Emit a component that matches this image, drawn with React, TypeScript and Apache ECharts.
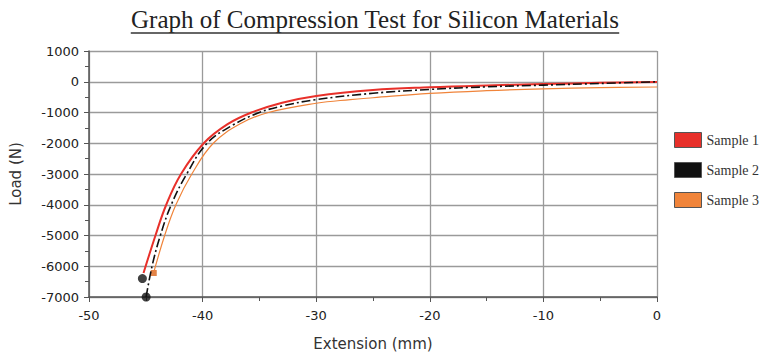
import React, { useEffect, useRef } from "react";
import * as echarts from "echarts";

const TITLE = "Graph of Compression Test for Silicon Materials";
const X_NAME = "Extension (mm)";
const Y_NAME = "Load (N)";
const SERIES_NAMES = ["Sample 1", "Sample 2", "Sample 3"];
const SERIES_COLORS = ["#e8302a", "#111111", "#f0843a"];

// [extension (mm), load (N)]
const sample1: [number, number][] = [
  [-45.2, -6220], [-44.15, -5000], [-43.2, -4000], [-41.9, -3000], [-39.9, -2000],
  [-37.8, -1380], [-35.7, -1000], [-33.0, -680], [-30.0, -460], [-25.0, -270],
  [-20.0, -180], [-15.0, -120], [-10.0, -75], [-5.0, -35], [0, -5],
];
const sample2: [number, number][] = [
  [-44.97, -7000], [-44.45, -6000], [-43.72, -5000], [-42.76, -4000], [-41.4, -3000],
  [-39.6, -2000], [-37.3, -1400], [-35.0, -1000], [-33.0, -790], [-30.0, -580],
  [-25.0, -375], [-20.0, -250], [-15.0, -165], [-10.0, -110], [-5.0, -55], [0, 0],
];
const sample2Markers: [number, number][] = [[-45.3, -6400], [-44.97, -7000]];
const sample3: [number, number][] = [
  [-44.3, -6200], [-43.34, -5000], [-42.35, -4000], [-40.95, -3000], [-39.06, -2000],
  [-36.6, -1350], [-34.2, -1000], [-30.0, -700], [-27.0, -580], [-25.0, -520],
  [-20.0, -380], [-15.0, -290], [-10.0, -230], [-5.0, -190], [0, -170],
];
const sample3Markers: [number, number][] = [[-44.3, -6220]];

export default function App() {
  const ref = useRef<HTMLDivElement>(null);
  useEffect(() => {
    if (!ref.current) return;
    const chart = echarts.init(ref.current, null, { renderer: "svg" });
    const titleFont = "25px 'Liberation Serif'";
    const ctx = document.createElement("canvas").getContext("2d");
    let tw = 490;
    if (ctx) {
      ctx.font = titleFont;
      tw = ctx.measureText(TITLE).width;
    }
    const cx = 375;
    const axisLabel = { color: "#222", fontFamily: "DejaVu Sans", fontSize: 13 };
    const lineBase = { type: "line", smooth: 0.4, symbol: "none" };
    chart.setOption({
      animation: false,
      backgroundColor: "#fff",
      graphic: [
        {
          type: "text",
          x: cx,
          y: 19,
          style: { text: TITLE, font: titleFont, fill: "#222", textAlign: "center", textVerticalAlign: "middle" },
        },
        {
          type: "line",
          shape: { x1: cx - tw / 2, y1: 33, x2: cx + tw / 2, y2: 33 },
          style: { stroke: "#333", lineWidth: 1.5 },
        },
      ],
      legend: {
        orient: "vertical",
        left: 669,
        top: 127,
        icon: "rect",
        itemWidth: 27,
        itemHeight: 15,
        itemGap: 14,
        data: SERIES_NAMES,
        itemStyle: { borderColor: "#555", borderWidth: 1 },
        textStyle: { fontFamily: "Liberation Serif", fontSize: 14, color: "#333" },
      },
      grid: { left: 87, right: 108, top: 51, bottom: 62, containLabel: false },
      xAxis: {
        type: "value",
        min: -50,
        max: 0,
        interval: 10,
        name: X_NAME,
        nameLocation: "middle",
        nameGap: 39,
        nameTextStyle: { fontFamily: "DejaVu Sans", fontSize: 15, color: "#333" },
        axisLine: { show: true, onZero: false, lineStyle: { color: "#555", width: 1.5 } },
        axisTick: { show: true, length: 5, lineStyle: { color: "#555" } },
        minorTick: { show: true, splitNumber: 2, length: 4, lineStyle: { color: "#555" } },
        axisLabel: { ...axisLabel, margin: 12, formatter: (v: number) => String(v) },
        splitLine: { show: true, lineStyle: { color: "#9a9a9a", width: 1.3 } },
      },
      yAxis: {
        type: "value",
        min: -7000,
        max: 1000,
        interval: 1000,
        name: Y_NAME,
        nameLocation: "middle",
        nameGap: 66,
        nameTextStyle: { fontFamily: "DejaVu Sans", fontSize: 15, color: "#333" },
        axisLine: { show: true, onZero: false, lineStyle: { color: "#555", width: 1.5 } },
        axisTick: { show: true, length: 5, lineStyle: { color: "#555" } },
        minorTick: { show: true, splitNumber: 2, length: 4, lineStyle: { color: "#555" } },
        axisLabel: { ...axisLabel, margin: 10, formatter: (v: number) => String(v) },
        splitLine: { show: true, lineStyle: { color: "#9a9a9a", width: 1.3 } },
      },
      series: [
        {
          ...lineBase,
          name: SERIES_NAMES[0],
          color: SERIES_COLORS[0],
          lineStyle: { width: 2, color: SERIES_COLORS[0] },
          data: sample1,
        },
        {
          ...lineBase,
          name: SERIES_NAMES[1],
          color: SERIES_COLORS[1],
          lineStyle: { width: 1.6, color: SERIES_COLORS[1], type: [9, 3, 2, 3] },
          data: sample2,
        },
        {
          ...lineBase,
          name: SERIES_NAMES[2],
          color: SERIES_COLORS[2],
          lineStyle: { width: 1.2, color: SERIES_COLORS[2] },
          data: sample3,
        },
        {
          name: "Sample 2 ends",
          type: "scatter",
          symbol: "circle",
          symbolSize: 9,
          itemStyle: { color: SERIES_COLORS[1] },
          data: sample2Markers,
        },
        {
          name: "Sample 3 ends",
          type: "scatter",
          symbol: "rect",
          symbolSize: 6,
          itemStyle: { color: "#d9641a" },
          data: sample3Markers,
        },
      ],
    });
    return () => chart.dispose();
  }, []);
  return (
    <div
      ref={ref}
      style={{ position: "fixed", left: 0, top: 0, width: 765, height: 359 }}
    />
  );
}
